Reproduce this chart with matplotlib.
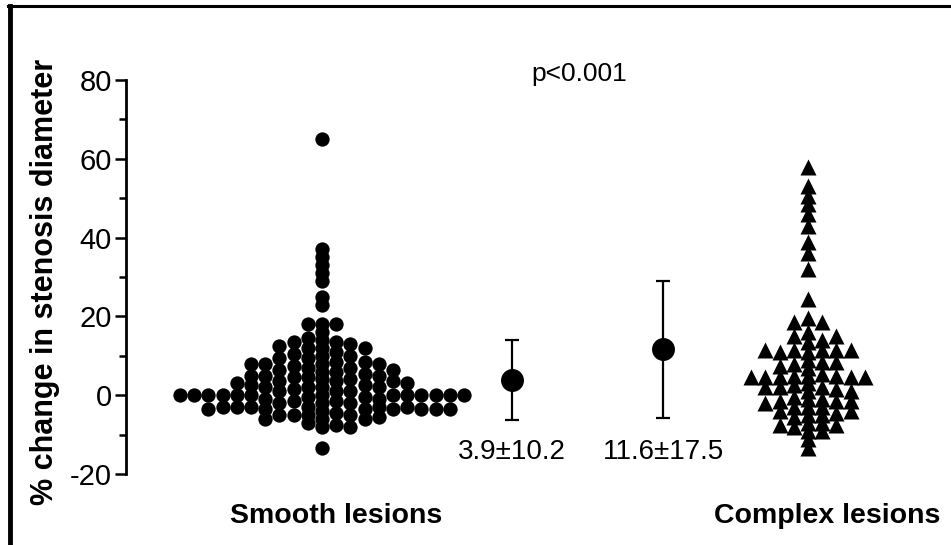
import matplotlib.pyplot as plt
from matplotlib.lines import Line2D
from matplotlib.ticker import MultipleLocator

plt.rcParams['font.family'] = ['Liberation Sans', 'DejaVu Sans']
plt.rcParams['axes.unicode_minus'] = False

# % change per lesion, one list per stacked column (left to right)
smooth_cols = [
    [0],
    [0],
    [0, -3.5],
    [0, -3],
    [3, 0, -3],
    [8, 5, 2.5, 0, -3],
    [8, 5, 2, -1, -3.5, -6],
    [12.5, 9.5, 6.5, 3.5, 1, -2, -5],
    [13.5, 10.5, 7.5, 4.5, 1.5, -1.5, -5],
    [18, 14.5, 12, 9.5, 7, 4.5, 2, -0.5, -3, -5, -7],
    [65, 37, 35, 33, 31, 29, 25, 23, 18, 16, 14, 12, 10, 8, 6, 4, 2, 0,
     -2, -4, -6, -8, -13.5],
    [18, 13.5, 11, 8.5, 6, 3.5, 1, -1.5, -4.5, -7.5],
    [13, 10, 7, 4, 1, -2, -5, -8],
    [12, 8.5, 5.5, 2.5, -0.5, -3.5, -6],
    [8, 5, 2, -1, -3, -5.5],
    [6.5, 3.5, 0, -3.5],
    [3, 0, -3],
    [0, -3.5],
    [0, -3.5],
    [0, -3.5],
    [0],
]

complex_cols = [
    [4.5],
    [11.5, 4.5, 2, -2],
    [11, 7.5, 4.5, 2, -1.5, -4, -7.5],
    [18.5, 15, 11.5, 8, 5, 2.5, -0.5, -3, -5.5, -8],
    [58, 53, 50.5, 48.5, 46, 43, 39, 36, 32, 24.5, 19.5, 16, 13.5, 11, 9,
     7, 5, 3, 1, -1, -3, -5, -7, -9, -11, -13.5],
    [18.5, 14, 11.5, 8.5, 5.5, 2, -1, -3, -5, -7, -9],
    [15, 11.5, 8.5, 5, 1.5, -1.5, -4.5, -7.5],
    [11.5, 4.5, 1, -1.5, -4],
    [4.5],
]

group_means = [3.9, 11.6]
group_sds = [10.2, 17.5]
group_names = ['Smooth lesions', 'Complex lesions']
p_text = 'p<0.001'

fig = plt.figure(figsize=(9.51, 5.45), dpi=100)
ax = fig.add_axes([126 / 951, 71 / 545, 819 / 951, 394 / 545])

step = 0.071


def swarm(cols, center, marker, size):
    mid = (len(cols) - 1) / 2
    for i, col in enumerate(cols):
        x = center + (i - mid) * step
        ax.plot([x] * len(col), col, ls='none', marker=marker, ms=size,
                color='black', mec='none', clip_on=False)


swarm(smooth_cols, 0.98, 'o', 10.3)
swarm(complex_cols, 3.41, '^', 11)

# mean +/- SD for each group
mean_x = [1.93, 2.685]
for x, m, sd in zip(mean_x, group_means, group_sds):
    ax.errorbar(x, m, yerr=sd, fmt='o', color='black', ms=15.5,
                elinewidth=1.6, capsize=5, capthick=1.6, clip_on=False)
    ax.text(x, -14.5, f'{m}\u00b1{sd}', ha='center', va='center',
            fontsize=20)

ax.text(1.05, -30.7, group_names[0], ha='center', va='center',
        fontsize=20.5, fontweight='bold')
ax.text(3.505, -30.7, group_names[1], ha='center', va='center',
        fontsize=20.5, fontweight='bold')
ax.text(2.265, 81.5, p_text, ha='center', va='center', fontsize=19)

ax.set_xlim(0, 4.095)
ax.set_ylim(-20, 80)
ax.yaxis.set_major_locator(MultipleLocator(20))
ax.yaxis.set_minor_locator(MultipleLocator(10))
ax.tick_params(axis='y', which='major', length=8, width=1.8, labelsize=21,
               pad=2)
ax.tick_params(axis='y', which='minor', length=5, width=1.8)
ax.set_xticks([])
for side in ['top', 'right', 'bottom']:
    ax.spines[side].set_visible(False)
ax.spines['left'].set_linewidth(2)

fig.text(45 / 951, 1 - 282 / 545, '% change in stenosis diameter',
         rotation=90, ha='center', va='center', fontsize=22,
         fontweight='bold')

# page frame
fig.add_artist(Line2D([10 / 951, 10 / 951], [0, 1 - 6 / 545],
                      color='black', lw=3.5))
fig.add_artist(Line2D([8 / 951, 1], [1 - 6 / 545, 1 - 6 / 545],
                      color='black', lw=2.2))

fig.savefig('out.png', dpi=100)
